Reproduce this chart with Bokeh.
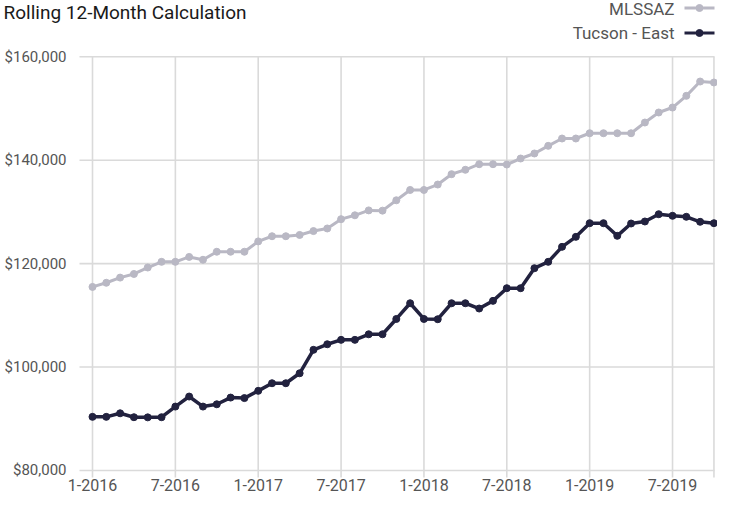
from bokeh.plotting import figure
from bokeh.models import Range1d
from bokeh.core.properties import value
from bokeh.embed import file_html
from bokeh.resources import INLINE

# ---- data ----
months = list(range(46))  # Jan 2016 .. Oct 2019
tick_positions = [0, 6, 12, 18, 24, 30, 36, 42]
tick_labels = ["1-2016", "7-2016", "1-2017", "7-2017", "1-2018", "7-2018", "1-2019", "7-2019"]
y_ticks = [80000, 100000, 120000, 140000, 160000]
y_labels = ["$80,000", "$100,000", "$120,000", "$140,000", "$160,000"]

mlssaz = [115500, 116300, 117300, 118000, 119250, 120350, 120350, 121300, 120750, 122300,
          122300, 122300, 124300, 125300, 125300, 125550, 126300, 126800, 128600, 129350,
          130300, 130250, 132250, 134250, 134250, 135300, 137300, 138150, 139230, 139230,
          139170, 140330, 141300, 142780, 144200, 144200, 145220, 145220, 145220, 145220,
          147290, 149230, 150190, 152450, 155220, 155030]
tucson_east = [90370, 90370, 91060, 90300, 90270, 90300, 92360, 94300, 92360, 92800,
               94100, 94000, 95400, 96870, 96870, 98800, 103330, 104410, 105260, 105260,
               106340, 106340, 109300, 112340, 109300, 109250, 112340, 112340, 111320, 112800,
               115250, 115250, 119120, 120350, 123250, 125180, 127820, 127820, 125380, 127760,
               128150, 129560, 129250, 129060, 128090, 127820]

series_names = ["MLSSAZ", "Tucson - East"]
colors = ["#b9b8c4", "#22223f"]
title_text = "Rolling 12-Month Calculation"

FONT = value("Roboto")
GRID = "#dadada"
LABEL_COLOR = "#555555"

# ---- layout: the plot frame covers the whole canvas (page px 8..725 x 8..502);
# page-pixel positions are converted into the chart's data space ----
X0_PX, PX_PER_MONTH = 100.0, 13.81      # month 0 position, px per month
Y160_PX, PX_PER_K = 64.3, 5.171         # $160,000 position, px per $1,000


def mx(px):
    return (px - X0_PX) / PX_PER_MONTH


def vy(py):
    return y_ticks[-1] + (Y160_PX - py) / PX_PER_K * 1000


p = figure(width=717, height=494, output_backend="svg", toolbar_location=None,
           x_range=Range1d(mx(8), mx(725)), y_range=Range1d(vy(502), vy(8)),
           x_axis_location=None, y_axis_location=None, min_border=0)
p.outline_line_color = None
p.grid.visible = False
p.background_fill_color = "white"

# grid lines
n = len(y_ticks)
p.segment(x0=[mx(87)] * n, y0=y_ticks, x1=[mx(722)] * n, y1=y_ticks,
          line_color=GRID, line_width=1.6)
vx = tick_positions + [months[-1]]
p.segment(x0=vx, y0=[vy(485)] * len(vx), x1=vx, y1=[y_ticks[-1]] * len(vx),
          line_color=GRID, line_width=1.6)

# axis labels
p.text(x=[mx(74)] * n, y=y_ticks, text=y_labels, text_font=FONT, text_font_size="15px",
       text_color=LABEL_COLOR, text_align="right", text_baseline="middle")
p.text(x=tick_positions, y=[vy(486)] * len(tick_positions), text=tick_labels,
       text_font=FONT, text_font_size="16px", text_color=LABEL_COLOR,
       text_align="center", text_baseline="top")

# series
for vals, col, lw in ((mlssaz, colors[0], 3), (tucson_east, colors[1], 3.5)):
    p.line(months, vals, line_color=col, line_width=lw)
    p.scatter(months, vals, size=7, fill_color=col, line_color=col)

# title
p.text(x=[mx(11)], y=[vy(8)], text=[title_text], text_font=FONT, text_font_size="19px",
       text_color="#1a1a1a", text_align="left", text_baseline="top")

# legend: text on the left, swatch on the right
leg_text_y = [vy(16), vy(40)]
leg_line_y = [vy(15.5), vy(40.5)]
p.text(x=[mx(682)] * 2, y=leg_text_y, text=series_names, text_font=FONT,
       text_font_size="17px", text_color=LABEL_COLOR, text_align="right",
       text_baseline="middle")
for col, ly in zip(colors, leg_line_y):
    p.line([mx(692), mx(722)], [ly, ly], line_color=col, line_width=3)
    p.scatter([mx(707)], [ly], size=7, fill_color=col, line_color=col)

open("out.html", "w").write(file_html(p, INLINE))
